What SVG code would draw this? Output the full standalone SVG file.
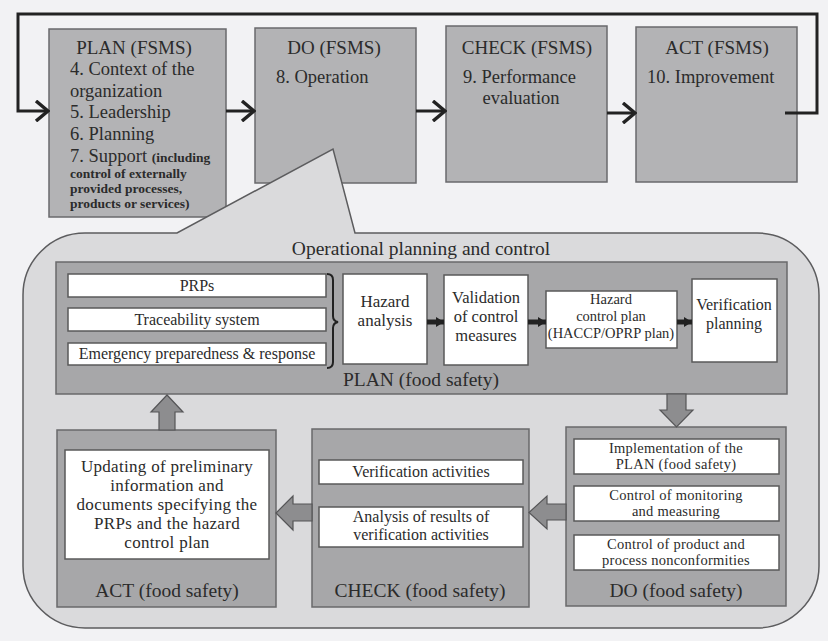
<svg xmlns="http://www.w3.org/2000/svg" width="828" height="641" viewBox="0 0 828 641">
<defs>
<style>
text{font-family:"Liberation Serif","Times New Roman",serif;fill:#2b2b2b}
.top{fill:#b3b3b5;stroke:#6a6a6c;stroke-width:1.5}
.gbox{fill:#a7a7a9;stroke:#69696b;stroke-width:1.5}
.wbox{fill:#ffffff;stroke:#5a5a5a;stroke-width:1.5}
.ttl{font-size:19px;text-anchor:middle}
.itm{font-size:18.5px}
.sm{font-size:13.5px;font-weight:bold}
.mid{text-anchor:middle}
.upd{font-size:17px;letter-spacing:0.3px;text-anchor:middle}
.dot{font-size:14.5px;letter-spacing:0.25px;text-anchor:middle}
.blk{fill:#8d8d8f;stroke:#555557;stroke-width:1.2}
.conn{fill:none;stroke:#222;stroke-width:3}
</style>
<marker id="chev" viewBox="0 0 16 22" refX="14" refY="11" markerWidth="16" markerHeight="22" markerUnits="userSpaceOnUse" orient="auto">
<path d="M2,1 L14,11 L2,21" fill="none" stroke="#222" stroke-width="3.5"/>
</marker>
<marker id="sm" viewBox="0 0 8 10" refX="8" refY="5" markerWidth="8" markerHeight="10" markerUnits="userSpaceOnUse" orient="auto">
<path d="M0,0 L8,5 L0,10 Z" fill="#222"/>
</marker>
</defs>
<rect x="0" y="0" width="828" height="641" fill="#f2f2f4"/>

<g id="plan-fsms">
<rect class="top" x="49" y="29" width="177" height="188"/>
<text class="ttl" x="134" y="54">PLAN (FSMS)</text>
<text class="itm" x="70" y="75">4. Context of the</text>
<text class="itm" x="70" y="97">organization</text>
<text class="itm" x="70" y="118">5. Leadership</text>
<text class="itm" x="70" y="140">6. Planning</text>
<text class="itm" x="70" y="162">7. Support <tspan class="sm">(including</tspan></text>
<text class="sm" x="70" y="178">control of externally</text>
<text class="sm" x="70" y="193">provided processes,</text>
<text class="sm" x="70" y="208">products or services)</text>
</g>
<g id="do-fsms">
<rect class="top" x="255" y="28" width="161" height="155"/>
<text class="ttl" x="334" y="54">DO (FSMS)</text>
<text class="itm" x="276" y="83">8. Operation</text>
</g>
<g id="check-fsms">
<rect class="top" x="446" y="26" width="161" height="156"/>
<text class="ttl" x="527" y="54">CHECK (FSMS)</text>
<text class="itm" x="463" y="83">9. Performance</text>
<text class="itm mid" x="521" y="104">evaluation</text>
</g>
<g id="act-fsms">
<rect class="top" x="636" y="27" width="161" height="155"/>
<text class="ttl" x="717" y="54">ACT (FSMS)</text>
<text class="itm" x="647" y="83">10. Improvement</text>
</g>

<g id="operational">
<path d="M85,233 L177,233 L333,149 L355,233 L757,233 A62,62 0 0 1 819,295 L819,566 A62,62 0 0 1 757,628 L85,628 A62,62 0 0 1 23,566 L23,295 A62,62 0 0 1 85,233 Z" fill="#dadadc" stroke="#5c5c5e" stroke-width="1.5"/>
<text class="mid" x="421" y="255" font-size="19.5">Operational planning and control</text>
</g>

<g id="plan-food">
<rect class="gbox" x="56" y="262" width="731" height="132"/>
<text class="mid" x="421" y="386" font-size="19.5">PLAN (food safety)</text>
</g>
<g id="prps">
<rect class="wbox" x="68" y="274" width="258" height="23"/>
<text class="mid" x="197" y="291" font-size="16">PRPs</text>
</g>
<g id="traceability">
<rect class="wbox" x="68" y="308" width="258" height="23"/>
<text class="mid" x="197" y="325" font-size="16">Traceability system</text>
</g>
<g id="emergency">
<rect class="wbox" x="68" y="343" width="258" height="22"/>
<text class="mid" x="197" y="359" font-size="16">Emergency preparedness &amp; response</text>
</g>
<g id="hazard-analysis">
<rect class="wbox" x="343" y="274" width="84" height="90"/>
<text class="mid" x="385" y="307" font-size="17">Hazard</text>
<text class="mid" x="385" y="326" font-size="17">analysis</text>
</g>
<g id="validation">
<rect class="wbox" x="444" y="275" width="84" height="90"/>
<text class="mid" x="486" y="303" font-size="16.5">Validation</text>
<text class="mid" x="486" y="322" font-size="16.5">of control</text>
<text class="mid" x="486" y="341" font-size="16.5">measures</text>
</g>
<g id="hazard-control">
<rect class="wbox" x="546" y="291" width="131" height="57"/>
<text class="mid" x="611" y="304" font-size="14.5">Hazard</text>
<text class="mid" x="611" y="321" font-size="14.5">control plan</text>
<text class="mid" x="611" y="338" font-size="14.5">(HACCP/OPRP plan)</text>
</g>
<g id="verification-planning">
<rect class="wbox" x="692" y="279" width="85" height="83"/>
<text class="mid" x="734" y="310" font-size="16">Verification</text>
<text class="mid" x="734" y="329" font-size="16">planning</text>
</g>

<g id="act-food">
<rect class="gbox" x="57" y="430" width="219" height="177"/>
<rect class="wbox" x="65" y="450" width="204" height="109"/>
<text class="upd" x="167" y="472">Updating of preliminary</text>
<text class="upd" x="167" y="491">information and</text>
<text class="upd" x="167" y="510">documents specifying the</text>
<text class="upd" x="167" y="529">PRPs and the hazard</text>
<text class="upd" x="167" y="548">control plan</text>
<text class="mid" x="167" y="597" font-size="19.5">ACT (food safety)</text>
</g>
<g id="check-food">
<rect class="gbox" x="312" y="429" width="217" height="178"/>
<rect class="wbox" x="319" y="460" width="204" height="24"/>
<text class="mid" x="421" y="477" font-size="16">Verification activities</text>
<rect class="wbox" x="319" y="507" width="204" height="40"/>
<text class="mid" x="421" y="522" font-size="16">Analysis of results of</text>
<text class="mid" x="421" y="540" font-size="16">verification activities</text>
<text class="mid" x="420" y="597" font-size="19.5">CHECK (food safety)</text>
</g>
<g id="do-food">
<rect class="gbox" x="566" y="427" width="220" height="179"/>
<rect class="wbox" x="574" y="439" width="205" height="35"/>
<text class="dot" x="676" y="453">Implementation of the</text>
<text class="dot" x="676" y="469">PLAN (food safety)</text>
<rect class="wbox" x="574" y="486" width="205" height="35"/>
<text class="dot" x="676" y="500">Control of monitoring</text>
<text class="dot" x="676" y="516">and measuring</text>
<rect class="wbox" x="574" y="535" width="205" height="35"/>
<text class="dot" x="676" y="549">Control of product and</text>
<text class="dot" x="676" y="565">process nonconformities</text>
<text class="mid" x="676" y="597" font-size="19.5">DO (food safety)</text>
</g>

<g id="connectors">
<path class="conn" d="M785,113 L817,113 L817,14 L18,14 L18,111 L48,111" marker-end="url(#chev)"/>
<path class="conn" d="M226,111 L254,111" marker-end="url(#chev)"/>
<path class="conn" d="M416,111 L445,111" marker-end="url(#chev)"/>
<path class="conn" d="M607,113 L635,113" marker-end="url(#chev)"/>
<path d="M327,274 Q333,274 333,280 L333,316 Q333,321 338,322 Q333,323 333,328 L333,362 Q333,368 327,368" fill="none" stroke="#222" stroke-width="2"/>
<path d="M427,322 L444,322" stroke="#222" stroke-width="5" marker-end="url(#sm)"/>
<path d="M528,322 L546,322" stroke="#222" stroke-width="5" marker-end="url(#sm)"/>
<path d="M677,322 L692,322" stroke="#222" stroke-width="5" marker-end="url(#sm)"/>
<path class="blk" d="M667,394 L686,394 L686,410 L693,410 L676.5,427 L660,410 L667,410 Z"/>
<path class="blk" d="M159,430 L175,430 L175,412 L183,412 L167,395 L151,412 L159,412 Z"/>
<path class="blk" d="M566,504 L566,520 L547,520 L547,529 L529,512.5 L547,496 L547,504 Z"/>
<path class="blk" d="M312,504 L312,521 L293,521 L293,530 L276,513 L293,496 L293,504 Z"/>
</g>
</svg>
